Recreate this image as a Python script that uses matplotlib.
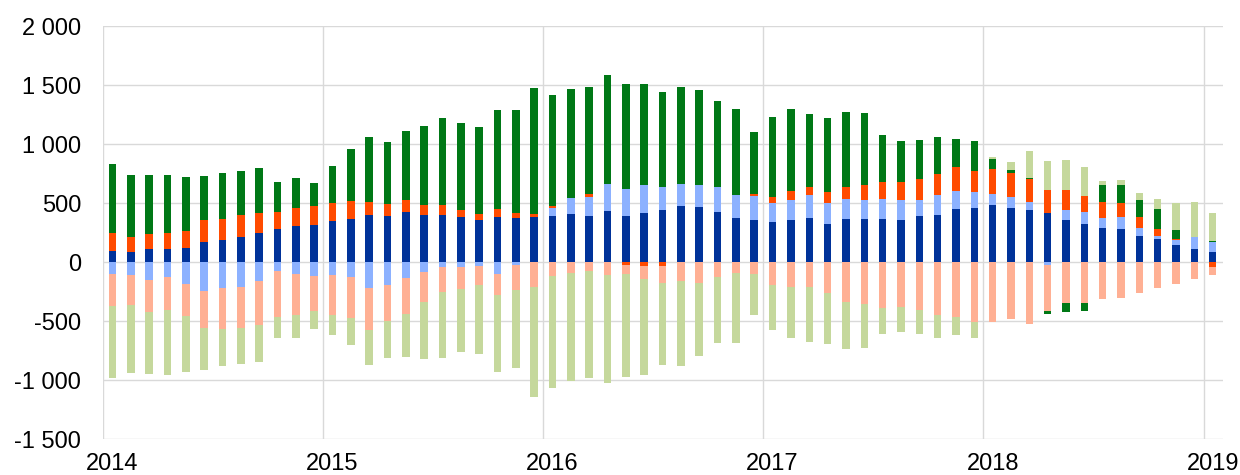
import numpy as np
import matplotlib
matplotlib.use("Agg")
import matplotlib.pyplot as plt
from matplotlib.ticker import FixedLocator, FuncFormatter

plt.rcParams['font.family'] = ['Liberation Sans', 'DejaVu Sans']

# Monthly observations Jan 2014 .. Jan 2019
years = [2014, 2015, 2016, 2017, 2018, 2019]

dark_blue = [96, 85, 116, 116, 124, 175, 192, 218, 251, 280, 311, 319, 353, 364, 401, 396,
             424, 404, 401, 381, 362, 384, 376, 387, 390, 410, 390, 438, 396, 415, 444, 480,
             472, 427, 376, 362, 342, 362, 376, 325, 370, 370, 364, 362, 396, 404, 455, 463,
             489, 463, 444, 421, 359, 325, 294, 280, 223, 201, 144, 116, 88]

light_blue = [-99, -107, -147, -124, -184, -246, -218, -206, -158, -73, -102, -116, -107, -121,
              -215, -192, -133, -79, -40, -37, -28, -96, -23, 0, 68, 138, 164, 226, 226, 240,
              194, 184, 186, 209, 195, 203, 164, 163, 197, 175, 164, 158, 176, 166, 135, 164,
              152, 130, 93, 91, 68, -23, 85, 104, 79, 107, 71, 25, 45, 99, 87]

orange = [153, 133, 124, 135, 144, 187, 178, 183, 167, 147, 152, 156, 147, 153, 110, 98, 101,
          85, 85, 65, 45, 68, 39, 20, 17, 0, 25, 0, -20, -28, -28, 0, 0, 0, 0, 17, 48, 77, 65,
          96, 104, 130, 141, 153, 175, 181, 204, 181, 209, 203, 192, 192, 169, 136, 138, 116,
          93, 59, 12, 0, -37]

salmon = [-268, -255, -274, -277, -271, -313, -347, -348, -373, -390, -344, -296, -339, -351,
          -358, -308, -308, -260, -214, -192, -167, -184, -209, -206, -119, -93, -73, -107,
          -79, -113, -150, -158, -178, -127, -93, -102, -195, -212, -206, -263, -333, -350,
          -390, -381, -404, -446, -460, -503, -506, -483, -526, -392, -342, -347, -311, -299,
          -263, -220, -181, -144, -73]

dark_green = [581, 519, 497, 486, 458, 367, 384, 373, 381, 251, 252, 198, 319, 446, 548, 526,
              585, 669, 737, 735, 743, 842, 876, 1073, 946, 918, 907, 921, 887, 854, 803, 822,
              800, 728, 726, 520, 678, 695, 619, 630, 633, 605, 395, 344, 334, 316, 231, 257,
              88, 23, 10, -20, -76, -63, 144, 150, 144, 167, 76, 0, 9]

light_green = [-613, -573, -523, -554, -477, -356, -311, -305, -314, -178, -198, -150, -167,
               -229, -294, -308, -364, -480, -554, -528, -582, -652, -661, -932, -943, -910,
               -904, -916, -870, -814, -692, -718, -616, -554, -588, -344, -378, -426, -472,
               -429, -401, -373, -220, -212, -206, -192, -156, -135, 14, 68, 226, 249, 254, 243,
               37, 45, 57, 85, 226, 299, 237]

series = [dark_blue, light_blue, orange, salmon, dark_green, light_green]
colors = ['#003299', '#8CB1FF', '#FF4B00', '#FFB094', '#007816', '#C5D89C']

n = len(dark_blue)
x = np.arange(n) + 0.5

fig = plt.figure(figsize=(12.4, 4.75), dpi=100)
ax = fig.add_axes([0.0833, 0.0752, 0.9028, 0.8694])

pos_bottom = np.zeros(n)
neg_bottom = np.zeros(n)
for vals, col in zip(series, colors):
    v = np.array(vals, dtype=float)
    pos = np.where(v > 0, v, 0)
    neg = np.where(v < 0, v, 0)
    ax.bar(x, pos, width=0.41, bottom=pos_bottom, color=col, edgecolor='none', zorder=3)
    ax.bar(x, neg, width=0.41, bottom=neg_bottom, color=col, edgecolor='none', zorder=3)
    pos_bottom += pos
    neg_bottom += neg

ax.set_xlim(0, 61.05)
ax.set_ylim(-1500, 2000)

ax.yaxis.set_major_locator(FixedLocator(np.arange(-1500, 2001, 500)))
ax.yaxis.set_major_formatter(FuncFormatter(lambda v, p: f"{v:,.0f}".replace(",", " ")))

ax.set_xticks([12 * i + 0.5 for i in range(len(years))])
ax.set_xticklabels([str(y) for y in years])
ax.set_xticks([12 * i for i in range(len(years))], minor=True)

ax.grid(axis='y', which='major', color='#D9D9D9', linewidth=1.0, zorder=0)
ax.grid(axis='x', which='minor', color='#D9D9D9', linewidth=1.0, zorder=0)
ax.grid(axis='x', which='major', visible=False)
ax.set_axisbelow(True)

for s in ax.spines.values():
    s.set_visible(False)

ax.tick_params(axis='both', which='both', length=0, labelsize=17, colors='black')
ax.tick_params(axis='y', pad=15.8)
ax.tick_params(axis='x', pad=10)

fig.savefig('out.png', dpi=100)
